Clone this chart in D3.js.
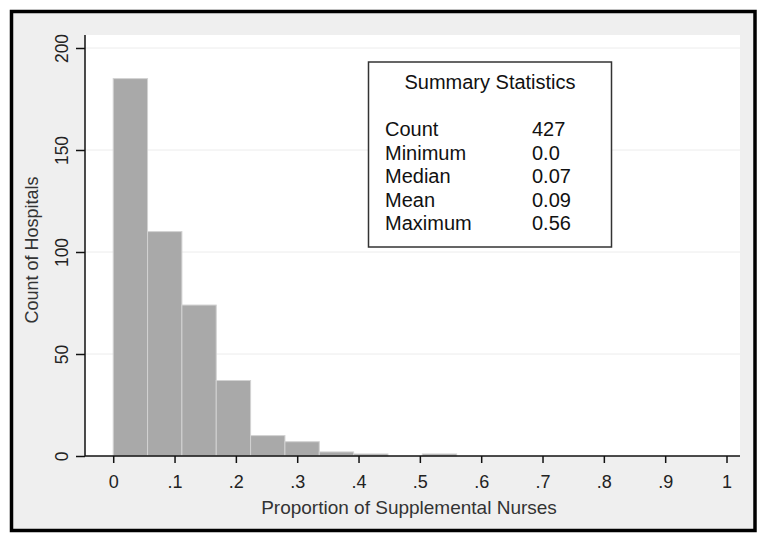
<!DOCTYPE html>
<html>
<head>
<meta charset="utf-8">
<script src="https://cdn.jsdelivr.net/npm/d3@7"></script>
<style>
  body { margin: 0; background: #fff; }
  text { font-family: "Liberation Sans", Arial, sans-serif; fill: #222; }
</style>
</head>
<body>
<svg id="chart" width="764" height="541"></svg>
<script>
// histogram bins (proportion of supplemental nurses)
var binEdges = [0, 0.056, 0.112, 0.168, 0.224, 0.28, 0.336, 0.392, 0.448, 0.504, 0.56];
var binCounts = [185, 110, 74, 37, 10, 7, 2, 1, 0, 1];

var xTicks = [0, 0.1, 0.2, 0.3, 0.4, 0.5, 0.6, 0.7, 0.8, 0.9, 1];
var xTickLabels = ["0", ".1", ".2", ".3", ".4", ".5", ".6", ".7", ".8", ".9", "1"];
var yTicks = [0, 50, 100, 150, 200];

var statNames = ["Count", "Minimum", "Median", "Mean", "Maximum"];
var statValues = ["427", "0.0", "0.07", "0.09", "0.56"];

var svg = d3.select("#chart");

// outer frame
svg.append("rect")
  .attr("x", 11.5).attr("y", 11.5)
  .attr("width", 743.5).attr("height", 519)
  .style("fill", "#efefef")
  .style("stroke", "#000")
  .style("stroke-width", "3.5px");

var plot = { left: 85, right: 740, top: 35, bottom: 456 };

var x = d3.scaleLinear().domain([-0.046, 1.022]).range([plot.left, plot.right]);
var y = d3.scaleLinear().domain([0, 200]).range([456, 48]);

// plot region
svg.append("rect")
  .attr("x", plot.left).attr("y", plot.top)
  .attr("width", plot.right - plot.left)
  .attr("height", plot.bottom - plot.top)
  .style("fill", "#fff");

// gridlines
svg.selectAll(".grid").data(yTicks.slice(1)).enter()
  .append("line")
  .attr("class", "grid")
  .attr("x1", plot.left).attr("x2", plot.right)
  .attr("y1", function(d) { return y(d); })
  .attr("y2", function(d) { return y(d); })
  .style("stroke", "#ececec")
  .style("stroke-width", "1px");

// bars
svg.selectAll(".bar").data(binCounts).enter()
  .append("rect")
  .attr("class", "bar")
  .attr("x", function(d, i) { return x(binEdges[i]); })
  .attr("width", function(d, i) { return x(binEdges[i + 1]) - x(binEdges[i]); })
  .attr("y", function(d) { return y(d); })
  .attr("height", function(d) { return y(0) - y(d); })
  .style("fill", "#a9a9a9")
  .style("stroke", "#d2d2d2")
  .style("stroke-width", "1px");

// x axis
var xAxis = d3.axisBottom(x)
  .tickValues(xTicks)
  .tickFormat(function(d, i) { return xTickLabels[i]; })
  .tickSize(7)
  .tickSizeOuter(0)
  .tickPadding(12);
var gx = svg.append("g")
  .attr("transform", "translate(0," + plot.bottom + ")")
  .call(xAxis);
gx.select(".domain").attr("d", "M" + plot.left + ",0H" + plot.right);

// y axis
var yAxis = d3.axisLeft(y)
  .tickValues(yTicks)
  .tickSize(9)
  .tickSizeOuter(0)
  .tickPadding(8);
var gy = svg.append("g")
  .attr("transform", "translate(" + plot.left + ",0)")
  .call(yAxis);
gy.select(".domain").attr("d", "M0," + plot.top + "V" + plot.bottom);

svg.selectAll(".domain, .tick line")
  .style("stroke", "#111")
  .style("stroke-width", "1.5px");

gx.selectAll(".tick text")
  .style("font-size", "18px")
  .style("font-family", "Liberation Sans, Arial, sans-serif")
  .style("fill", "#222");

gy.selectAll(".tick text")
  .style("font-size", "17.5px")
  .style("font-family", "Liberation Sans, Arial, sans-serif")
  .style("fill", "#222")
  .attr("text-anchor", "middle")
  .attr("transform", "translate(-17,0) rotate(-90)")
  .attr("x", 0)
  .attr("dy", "0");

// axis titles
svg.append("text")
  .attr("x", 409).attr("y", 514)
  .attr("text-anchor", "middle")
  .style("font-size", "19px")
  .style("fill", "#333")
  .text("Proportion of Supplemental Nurses");

svg.append("text")
  .attr("transform", "translate(38,250) rotate(-90)")
  .attr("text-anchor", "middle")
  .style("font-size", "18px")
  .style("fill", "#333")
  .text("Count of Hospitals");

// summary statistics box
var box = svg.append("g");
box.append("rect")
  .attr("x", 368.5).attr("y", 62)
  .attr("width", 243).attr("height", 185)
  .style("fill", "#fff")
  .style("stroke", "#333")
  .style("stroke-width", "1.5px");

box.append("text")
  .attr("x", 490).attr("y", 89)
  .attr("text-anchor", "middle")
  .style("font-size", "20px")
  .style("fill", "#111")
  .text("Summary Statistics");

var rowY = d3.scalePoint().domain(statNames).range([136, 230]);

box.selectAll(".sname").data(statNames).enter()
  .append("text")
  .attr("class", "sname")
  .attr("x", 385)
  .attr("y", function(d) { return rowY(d); })
  .style("font-size", "20px")
  .style("fill", "#111")
  .text(function(d) { return d; });

box.selectAll(".sval").data(statValues).enter()
  .append("text")
  .attr("class", "sval")
  .attr("x", 532)
  .attr("y", function(d, i) { return rowY(statNames[i]); })
  .style("font-size", "20px")
  .style("fill", "#111")
  .text(function(d) { return d; });
</script>
</body>
</html>
